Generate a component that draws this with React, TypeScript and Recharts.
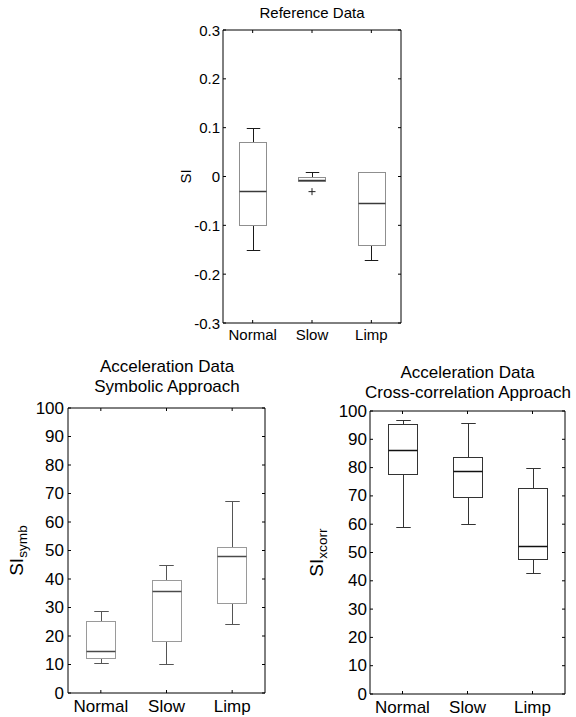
import { ComposedChart, Bar, Scatter, XAxis, YAxis } from 'recharts';

const FONT = '"Liberation Sans", Arial, Helvetica, sans-serif';

const groups = ['Normal', 'Slow', 'Limp'];

// Reference Data (SI)
const refLow = [-0.15, -0.01, -0.17];
const refQ1 = [-0.1, -0.01, -0.14];
const refMed = [-0.03, -0.008, -0.055];
const refQ3 = [0.07, 0.0, 0.01];
const refHigh = [0.1, 0.009, 0.01];
const refOutlier = [null, -0.031, null];
const refTicks = [-0.3, -0.2, -0.1, 0, 0.1, 0.2, 0.3];

// Acceleration data, symbolic approach (SI_symb)
const symbLow = [10.5, 10.2, 24.1];
const symbQ1 = [12.4, 18.4, 31.6];
const symbMed = [14.6, 35.8, 48.0];
const symbQ3 = [25.3, 39.8, 51.4];
const symbHigh = [28.9, 44.8, 67.4];
const symbOutlier = [null, null, null];

// Acceleration data, cross-correlation approach (SI_xcorr)
const xcorrLow = [58.9, 60.0, 42.7];
const xcorrQ1 = [77.8, 69.7, 47.6];
const xcorrMed = [86.3, 78.9, 52.4];
const xcorrQ3 = [95.4, 83.6, 72.7];
const xcorrHigh = [96.7, 95.8, 79.7];
const xcorrOutlier = [null, null, null];

const pctTicks = [0, 10, 20, 30, 40, 50, 60, 70, 80, 90, 100];

function buildRows(low: number[], q1: number[], med: number[], q3: number[], high: number[], outlier: (number | null)[]) {
  return groups.map((name, i) => ({
    name,
    range: [low[i], high[i]],
    low: low[i],
    q1: q1[i],
    med: med[i],
    q3: q3[i],
    high: high[i],
    outlier: outlier[i],
  }));
}

type Colors = { box: string; med: string; whisker: string };

function BoxShape(props: any) {
  const { x, y, width, height, payload, colors } = props;
  const { low, q1, med, q3, high } = payload;
  const k = height / (high - low);
  const py = (v: number) => Math.round(y + (high - v) * k) + 0.5;
  const cx = Math.round(x + width / 2) + 0.5;
  const l = Math.round(x) + 0.5;
  const r = Math.round(x + width) + 0.5;
  const cap = width / 4;
  const c: Colors = colors;
  return (
    <g fill="none" strokeWidth={1}>
      <line x1={cx} x2={cx} y1={py(high)} y2={py(q3)} stroke={c.whisker} />
      <line x1={cx} x2={cx} y1={py(q1)} y2={py(low)} stroke={c.whisker} />
      <line x1={cx - cap} x2={cx + cap} y1={py(high)} y2={py(high)} stroke={c.whisker} />
      <line x1={cx - cap} x2={cx + cap} y1={py(low)} y2={py(low)} stroke={c.whisker} />
      <rect x={l} y={py(q3)} width={r - l} height={py(q1) - py(q3)} stroke={c.box} />
      <line x1={l} x2={r} y1={py(med)} y2={py(med)} stroke={c.med} strokeWidth={1.5} />
    </g>
  );
}

function PlusShape(props: any) {
  const { cx, cy, payload } = props;
  if (payload == null || payload.outlier == null || !isFinite(cy)) return null;
  return (
    <g stroke="#222" strokeWidth={1}>
      <line x1={cx - 3.5} x2={cx + 3.5} y1={cy} y2={cy} />
      <line x1={cx} x2={cx} y1={cy - 3.5} y2={cy + 3.5} />
    </g>
  );
}

function LeftTick(props: any) {
  const { x, y, payload, fontSize, gap } = props;
  const ax = x + gap;
  return (
    <g>
      <line x1={ax} x2={ax + 3} y1={y} y2={y} stroke="#000" />
      <text x={x} y={y} textAnchor="end" dominantBaseline="central" fontSize={fontSize} fontFamily={FONT} fill="#000">
        {String(payload.value)}
      </text>
    </g>
  );
}

function RightTick(props: any) {
  const { x, y } = props;
  return <line x1={x - 3} x2={x} y1={y} y2={y} stroke="#000" />;
}

function BottomTick(props: any) {
  const { x, y, payload, fontSize, dy } = props;
  return (
    <g>
      <line x1={x} x2={x} y1={y - 3} y2={y} stroke="#000" />
      <text x={x} y={y + dy} textAnchor="middle" fontSize={fontSize} fontFamily={FONT} fill="#000">
        {payload.value}
      </text>
    </g>
  );
}

function TopTick(props: any) {
  const { x, y } = props;
  return <line x1={x} x2={x} y1={y} y2={y + 3} stroke="#000" />;
}

function YTitle(props: any) {
  const { viewBox, cx, main, sub, fontSize } = props;
  const cy = viewBox.y + viewBox.height / 2;
  return (
    <text
      x={cx}
      y={cy}
      transform={`rotate(-90, ${cx}, ${cy})`}
      textAnchor="middle"
      dominantBaseline="central"
      fontSize={fontSize}
      fontFamily={FONT}
      fill="#000"
    >
      {main}
      {sub ? (
        <tspan fontSize={fontSize * 0.72} dy={fontSize * 0.3}>
          {sub}
        </tspan>
      ) : null}
    </text>
  );
}

interface BoxChartProps {
  rows: any[];
  width: number;
  height: number;
  margin: { top: number; right: number; bottom: number; left: number };
  yWidth: number;
  xHeight: number;
  domain: [number, number];
  ticks: number[];
  fontSize: number;
  barSize: number;
  colors: Colors;
  labelX: number;
  labelMain: string;
  labelSub?: string;
  labelSize: number;
  gap: number;
  xdy: number;
}

function BoxChart(p: BoxChartProps) {
  return (
    <ComposedChart width={p.width} height={p.height} data={p.rows} margin={p.margin}>
      <XAxis
        xAxisId="b"
        dataKey="name"
        interval={0}
        height={p.xHeight}
        tickLine={false}
        tickSize={0}
        tickMargin={0}
        axisLine={{ stroke: '#000' }}
        tick={<BottomTick fontSize={p.fontSize} dy={p.xdy} />}
      />
      <XAxis
        xAxisId="t"
        orientation="top"
        dataKey="name"
        interval={0}
        height={1}
        tickLine={false}
        tickSize={0}
        tickMargin={0}
        axisLine={{ stroke: '#000' }}
        tick={<TopTick />}
      />
      <YAxis
        yAxisId="l"
        type="number"
        domain={p.domain}
        ticks={p.ticks}
        allowDataOverflow
        interval={0}
        width={p.yWidth}
        tickLine={false}
        tickSize={0}
        tickMargin={p.gap}
        axisLine={{ stroke: '#000' }}
        tick={<LeftTick fontSize={p.fontSize} gap={p.gap} />}
        label={<YTitle cx={p.labelX} main={p.labelMain} sub={p.labelSub} fontSize={p.labelSize} />}
      />
      <YAxis
        yAxisId="r"
        orientation="right"
        type="number"
        domain={p.domain}
        ticks={p.ticks}
        allowDataOverflow
        interval={0}
        width={1}
        tickLine={false}
        tickSize={0}
        tickMargin={0}
        axisLine={{ stroke: '#000' }}
        tick={<RightTick />}
      />
      <Bar
        xAxisId="b"
        yAxisId="l"
        dataKey="range"
        barSize={p.barSize}
        isAnimationActive={false}
        shape={(s: any) => <BoxShape {...s} colors={p.colors} />}
      />
      <Scatter
        xAxisId="b"
        yAxisId="l"
        dataKey="outlier"
        isAnimationActive={false}
        shape={(s: any) => <PlusShape {...s} />}
      />
    </ComposedChart>
  );
}

const refRows = buildRows(refLow, refQ1, refMed, refQ3, refHigh, refOutlier);
const symbRows = buildRows(symbLow, symbQ1, symbMed, symbQ3, symbHigh, symbOutlier);
const xcorrRows = buildRows(xcorrLow, xcorrQ1, xcorrMed, xcorrQ3, xcorrHigh, xcorrOutlier);

const titleStyle = {
  position: 'absolute' as const,
  fontFamily: FONT,
  textAlign: 'center' as const,
  color: '#000',
  whiteSpace: 'nowrap' as const,
};

export default function App() {
  return (
    <div style={{ position: 'absolute', left: 0, top: 0, width: 576, height: 717, background: '#fff', overflow: 'hidden' }}>
      <div style={{ ...titleStyle, left: 212, width: 200, top: 4, fontSize: 15, lineHeight: '18px' }}>Reference Data</div>
      <div style={{ position: 'absolute', left: 150, top: 0 }}>
        <BoxChart
          rows={refRows}
          width={270}
          height={345}
          margin={{ top: 29, right: 18, bottom: 0, left: 0 }}
          yWidth={73}
          xHeight={22}
          domain={[-0.3, 0.3]}
          ticks={refTicks}
          fontSize={15}
          barSize={27}
          colors={{ box: '#8f8f8f', med: '#3a3a3a', whisker: '#1a1a1a' }}
          labelX={35}
          labelMain="SI"
          labelSize={15}
          gap={3}
          xdy={17}
        />
      </div>

      <div style={{ ...titleStyle, left: 67, width: 200, top: 357, fontSize: 17, lineHeight: '20px' }}>
        Acceleration Data
        <br />
        Symbolic Approach
      </div>
      <div style={{ position: 'absolute', left: 0, top: 340 }}>
        <BoxChart
          rows={symbRows}
          width={290}
          height={377}
          margin={{ top: 67, right: 24, bottom: 0, left: 0 }}
          yWidth={68}
          xHeight={24}
          domain={[0, 100]}
          ticks={pctTicks}
          fontSize={17}
          barSize={29}
          colors={{ box: '#9a9a9a', med: '#4a4a4a', whisker: '#555' }}
          labelX={16}
          labelMain="SI"
          labelSub="symb"
          labelSize={19}
          gap={4}
          xdy={19}
        />
      </div>

      <div style={{ ...titleStyle, left: 365, width: 205, top: 363, fontSize: 17, lineHeight: '20px' }}>
        Acceleration Data
        <br />
        Cross-correlation Approach
      </div>
      <div style={{ position: 'absolute', left: 290, top: 340 }}>
        <BoxChart
          rows={xcorrRows}
          width={286}
          height={377}
          margin={{ top: 70, right: 10, bottom: 0, left: 0 }}
          yWidth={80}
          xHeight={23}
          domain={[0, 100]}
          ticks={pctTicks}
          fontSize={17}
          barSize={29}
          colors={{ box: '#333', med: '#111', whisker: '#333' }}
          labelX={26}
          labelMain="SI"
          labelSub="xcorr"
          labelSize={19}
          gap={3}
          xdy={19}
        />
      </div>
    </div>
  );
}
